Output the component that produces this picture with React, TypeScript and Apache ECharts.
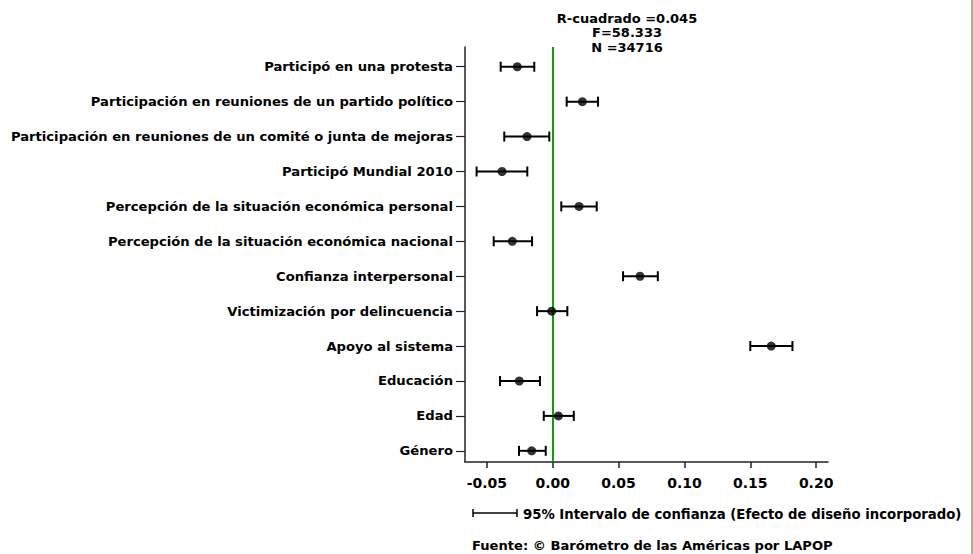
import React, { useEffect, useRef } from "react";
import * as echarts from "echarts";

const categories = [
  "Participó en una protesta",
  "Participación en reuniones de un partido político",
  "Participación en reuniones de un comité o junta de mejoras",
  "Participó Mundial 2010",
  "Percepción de la situación económica personal",
  "Percepción de la situación económica nacional",
  "Confianza interpersonal",
  "Victimización por delincuencia",
  "Apoyo al sistema",
  "Educación",
  "Edad",
  "Género",
];
const estimates = [-0.0269, 0.0225, -0.0195, -0.0385, 0.02, -0.0307, 0.0663, -0.0008, 0.1659, -0.0254, 0.0043, -0.016];
const lower = [-0.0395, 0.0106, -0.0368, -0.0578, 0.0065, -0.0448, 0.0534, -0.0119, 0.15, -0.04, -0.0068, -0.0256];
const upper = [-0.014, 0.0344, -0.0026, -0.0193, 0.0334, -0.0157, 0.0798, 0.0111, 0.182, -0.0097, 0.016, -0.0053];
const xTicks = [-0.05, 0, 0.05, 0.1, 0.15, 0.2];
const statLines = ["R-cuadrado =0.045", "F=58.333", "N =34716"];
const legendText = "95% Intervalo de confianza (Efecto de diseño incorporado)";
const sourceText = "Fuente: © Barómetro de las Américas por LAPOP";

export default function App() {
  const ref = useRef<HTMLDivElement>(null);
  useEffect(() => {
    const chart = echarts.init(ref.current!, null, { renderer: "svg" });
    const fontFamily = "'DejaVu Sans', sans-serif";
    const rowIdx = categories.map((_, i) => i);
    chart.setOption({
      animation: false,
      backgroundColor: "#ffffff",
      grid: { left: 465, top: 47, width: 363, height: 415 },
      xAxis: {
        type: "value",
        min: -0.0666,
        max: 0.209,
        axisLine: { show: true, onZero: false, lineStyle: { color: "#222", width: 1.5 } },
        axisTick: { show: true, customValues: xTicks, length: 6, lineStyle: { color: "#222", width: 1.5 } },
        axisLabel: {
          customValues: xTicks,
          formatter: (v: number) => v.toFixed(2),
          fontWeight: "bold",
          fontSize: 14,
          color: "#000",
          margin: 14,
          fontFamily,
        },
        splitLine: { show: false },
      },
      yAxis: {
        type: "value",
        inverse: true,
        min: -0.565,
        max: 11.32,
        axisLine: { show: true, onZero: false, lineStyle: { color: "#222", width: 1.5 } },
        axisTick: { show: true, customValues: rowIdx, length: 9, lineStyle: { color: "#222", width: 1.2 } },
        axisLabel: {
          customValues: rowIdx,
          formatter: (v: number) => categories[Math.round(v)] ?? "",
          fontWeight: "bold",
          fontSize: 13.15,
          color: "#000",
          margin: 12,
          fontFamily,
        },
        splitLine: { show: false },
      },
      series: [
        {
          type: "custom",
          data: categories.map((_, i) => [i, lower[i], upper[i]]),
          renderItem: (params: any, api: any) => {
            const i = api.value(0);
            const p1 = api.coord([api.value(1), i]);
            const p2 = api.coord([api.value(2), i]);
            const h = 5;
            const style = { stroke: "#000", lineWidth: 2 };
            return {
              type: "group",
              children: [
                { type: "line", shape: { x1: p1[0], y1: p1[1], x2: p2[0], y2: p2[1] }, style },
                { type: "line", shape: { x1: p1[0], y1: p1[1] - h, x2: p1[0], y2: p1[1] + h }, style },
                { type: "line", shape: { x1: p2[0], y1: p2[1] - h, x2: p2[0], y2: p2[1] + h }, style },
              ],
            };
          },
          z: 3,
        },
        {
          type: "scatter",
          data: categories.map((_, i) => [estimates[i], i]),
          symbol: "circle",
          symbolSize: 9,
          itemStyle: { color: "#000" },
          z: 4,
          markLine: {
            silent: true,
            symbol: "none",
            label: { show: false },
            lineStyle: { color: "#129c12", width: 2, type: "solid" },
            data: [{ xAxis: 0 }],
            z: 2,
          },
        },
      ],
      graphic: [
        ...statLines.map((t, k) => ({
          type: "text",
          x: 627,
          y: 18 + k * 14.5,
          style: {
            text: t,
            textAlign: "center",
            textVerticalAlign: "middle",
            fontSize: 13,
            fontWeight: "bold",
            fontFamily,
            fill: "#000",
          },
        })),
        { type: "line", shape: { x1: 473, y1: 513, x2: 517, y2: 513 }, style: { stroke: "#000", lineWidth: 1.5 } },
        { type: "line", shape: { x1: 473, y1: 509, x2: 473, y2: 517 }, style: { stroke: "#000", lineWidth: 1.5 } },
        { type: "line", shape: { x1: 517, y1: 509, x2: 517, y2: 517 }, style: { stroke: "#000", lineWidth: 1.5 } },
        {
          type: "text",
          x: 523,
          y: 514,
          style: {
            text: legendText,
            textVerticalAlign: "middle",
            fontSize: 13.25,
            fontWeight: "bold",
            fontFamily,
            fill: "#000",
          },
        },
        {
          type: "text",
          x: 472,
          y: 545,
          style: {
            text: sourceText,
            textVerticalAlign: "middle",
            fontSize: 13.1,
            fontWeight: "bold",
            fontFamily,
            fill: "#000",
          },
        },
        { type: "line", shape: { x1: 972, y1: 0, x2: 972, y2: 554 }, style: { stroke: "#8a9a72", lineWidth: 1.5 } },
      ],
    });
    return () => chart.dispose();
  }, []);
  return (
    <div
      ref={ref}
      style={{ position: "absolute", left: 0, top: 0, width: 973, height: 554 }}
    />
  );
}
